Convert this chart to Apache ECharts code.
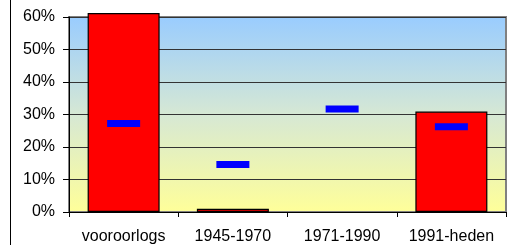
<!DOCTYPE html>
<html>
<head>
<meta charset="utf-8">
<script src="https://cdn.jsdelivr.net/npm/echarts@6/dist/echarts.min.js"></script>
<style>
  html, body { margin: 0; padding: 0; background: #fff; }
  #main { width: 512px; height: 245px; }
</style>
</head>
<body>
<div id="main"></div>
<script>
// categorieen en waarden (procenten)
var categories = ['vooroorlogs', '1945-1970', '1971-1990', '1991-heden'];
var barValues = [61.2, 1.0, 0, 30.9];
var markerValues = [27.2, 14.6, 31.7, 26.2];
var yTicks = [0, 10, 20, 30, 40, 50, 60];

var myChart = echarts.init(document.getElementById('main'));
var option = {
  backgroundColor: '#ffffff',
  animation: false,
  grid: {
    left: 69,
    right: 6,
    top: 17,
    bottom: 33,
    show: true,
    borderColor: '#808080',
    borderWidth: 2,
    backgroundColor: new echarts.graphic.LinearGradient(0, 0, 0, 1, [
      { offset: 0, color: '#99CCFF' },
      { offset: 0.5, color: '#D6E8D4' },
      { offset: 1, color: '#FFFF99' }
    ])
  },
  graphic: [
    {
      type: 'line',
      shape: { x1: 10.5, y1: 0, x2: 10.5, y2: 245 },
      style: { stroke: '#000', lineWidth: 1 }
    }
  ],
  xAxis: {
    type: 'category',
    data: categories,
    axisLine: { lineStyle: { color: '#000', width: 1 } },
    axisTick: { show: true, length: 5, lineStyle: { color: '#000' } },
    axisLabel: {
      interval: 0,
      color: '#000',
      fontFamily: 'Liberation Sans, Arial, sans-serif',
      fontSize: 16,
      margin: 17
    }
  },
  yAxis: {
    type: 'value',
    min: yTicks[0],
    max: yTicks[yTicks.length - 1],
    interval: 10,
    axisLine: { show: true, lineStyle: { color: '#000', width: 1 } },
    axisTick: { show: true, length: 6, lineStyle: { color: '#000' } },
    axisLabel: {
      color: '#000',
      fontFamily: 'Liberation Sans, Arial, sans-serif',
      fontSize: 16,
      margin: 14,
      formatter: function (v) { return v + '%'; }
    },
    splitLine: { show: true, lineStyle: { color: '#333', width: 1 } }
  },
  series: [
    {
      type: 'bar',
      // 0 wordt niet getekend (geen lege rand)
      data: barValues.map(function (v) { return v === 0 ? '-' : v; }),
      barWidth: 72,
      clip: false,
      itemStyle: { color: '#FF0000', borderColor: '#000', borderWidth: 1.2 },
      z: 2
    },
    {
      type: 'scatter',
      data: markerValues,
      symbol: 'rect',
      symbolSize: [33, 7],
      itemStyle: { color: '#0000FF', opacity: 1 },
      z: 5
    }
  ]
};
myChart.setOption(option);
</script>
</body>
</html>
